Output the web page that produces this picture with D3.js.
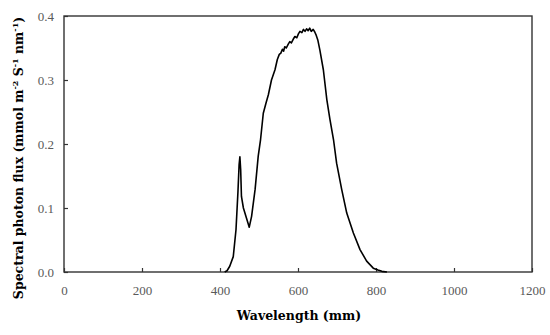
<!DOCTYPE html>
<html>
<head>
<meta charset="utf-8">
<script src="https://cdn.jsdelivr.net/npm/d3@7"></script>
<style>
  body { margin: 0; background: #fff; }
  text { font-family: "Liberation Serif", "Times New Roman", serif; }
</style>
</head>
<body>
<svg id="chart"></svg>
<script>
// spectrum (wavelength nm, flux)
var wavelength = [412, 418, 425, 434, 441, 446, 449, 451, 453, 455, 460, 468, 475, 481, 490, 498, 504, 511, 518, 524, 532, 541, 547, 552, 556, 560, 563, 566, 570, 575, 579, 583, 588, 592, 597, 601, 605, 610, 614, 618, 622, 626, 630, 634, 639, 643, 646, 651, 656, 665, 674, 682, 691, 699, 712, 725, 742, 759, 776, 793, 805, 815, 828];
var flux = [0, 0.002, 0.009, 0.024, 0.066, 0.125, 0.168, 0.180, 0.160, 0.118, 0.100, 0.084, 0.070, 0.087, 0.129, 0.181, 0.207, 0.248, 0.264, 0.277, 0.300, 0.316, 0.332, 0.340, 0.342, 0.348, 0.345, 0.352, 0.350, 0.356, 0.360, 0.358, 0.364, 0.368, 0.366, 0.372, 0.376, 0.374, 0.379, 0.376, 0.380, 0.377, 0.381, 0.376, 0.379, 0.375, 0.371, 0.362, 0.347, 0.316, 0.269, 0.238, 0.207, 0.170, 0.129, 0.092, 0.061, 0.035, 0.017, 0.006, 0.003, 0.001, 0];
var xTicks = [0, 200, 400, 600, 800, 1000, 1200];
var yTicks = [0, 0.1, 0.2, 0.3, 0.4];

var width = 550, height = 335;
var margin = { top: 16, right: 18, bottom: 63, left: 64 };
var w = width - margin.left - margin.right;
var h = height - margin.top - margin.bottom;

var svg = d3.select("#chart")
            .attr("width", width)
            .attr("height", height);

var g = svg.append("g")
           .attr("transform", "translate(" + margin.left + "," + margin.top + ")");

var x = d3.scaleLinear().domain([0, 1200]).range([0, w]);
var y = d3.scaleLinear().domain([0, 0.4]).range([h, 0]);

// x axis, ticks pointing inward
var xAxis = g.append("g")
  .attr("transform", "translate(0," + h + ")")
  .call(d3.axisBottom(x).tickValues(xTicks).tickFormat(d3.format("d")).tickSizeInner(-4).tickSizeOuter(0).tickPadding(14));

// y axis
var yAxis = g.append("g")
  .call(d3.axisLeft(y).tickValues(yTicks).tickFormat(d3.format(".1f")).tickSizeInner(-4).tickSizeOuter(0).tickPadding(10));

[xAxis, yAxis].forEach(function(a){
  a.selectAll("path").remove();
  a.selectAll("line").attr("stroke", "#333").attr("stroke-width", 1.2);
  a.selectAll("text").attr("fill", "#595959").style("font-size", "13px");
});

// frame
g.append("rect")
  .attr("x", 0).attr("y", 0)
  .attr("width", w).attr("height", h)
  .attr("fill", "none")
  .attr("stroke", "#333")
  .attr("stroke-width", 1.4);

var pts = wavelength.map(function(d, i){ return [d, flux[i]]; });

var line = d3.line()
  .x(function(d){ return x(d[0]); })
  .y(function(d){ return y(d[1]); });

g.append("path")
  .datum(pts)
  .attr("d", line)
  .attr("fill", "none")
  .attr("stroke", "#000")
  .attr("stroke-width", 1.6)
  .attr("stroke-linejoin", "round");

// axis titles
svg.append("text")
  .attr("x", margin.left + w / 2 + 1)
  .attr("y", 320)
  .attr("text-anchor", "middle")
  .style("font-family", "'DejaVu Serif', serif")
  .style("font-size", "12.5px")
  .style("font-weight", "bold")
  .text("Wavelength (mm)");

var yt = svg.append("text")
  .attr("transform", "translate(23," + (margin.top + h / 2 + 14) + ") rotate(-90)")
  .attr("text-anchor", "middle")
  .style("font-family", "'DejaVu Serif', serif")
  .style("font-size", "12.5px")
  .style("font-weight", "bold");
yt.append("tspan").text("Spectral photon flux (mmol m");
yt.append("tspan").attr("dy", -5).style("font-size", "8px").text("-2");
yt.append("tspan").attr("dy", 5).text(" S");
yt.append("tspan").attr("dy", -5).style("font-size", "8px").text("-1");
yt.append("tspan").attr("dy", 5).text(" nm");
yt.append("tspan").attr("dy", -5).style("font-size", "8px").text("-1");
yt.append("tspan").attr("dy", 5).text(")");
</script>
</body>
</html>
